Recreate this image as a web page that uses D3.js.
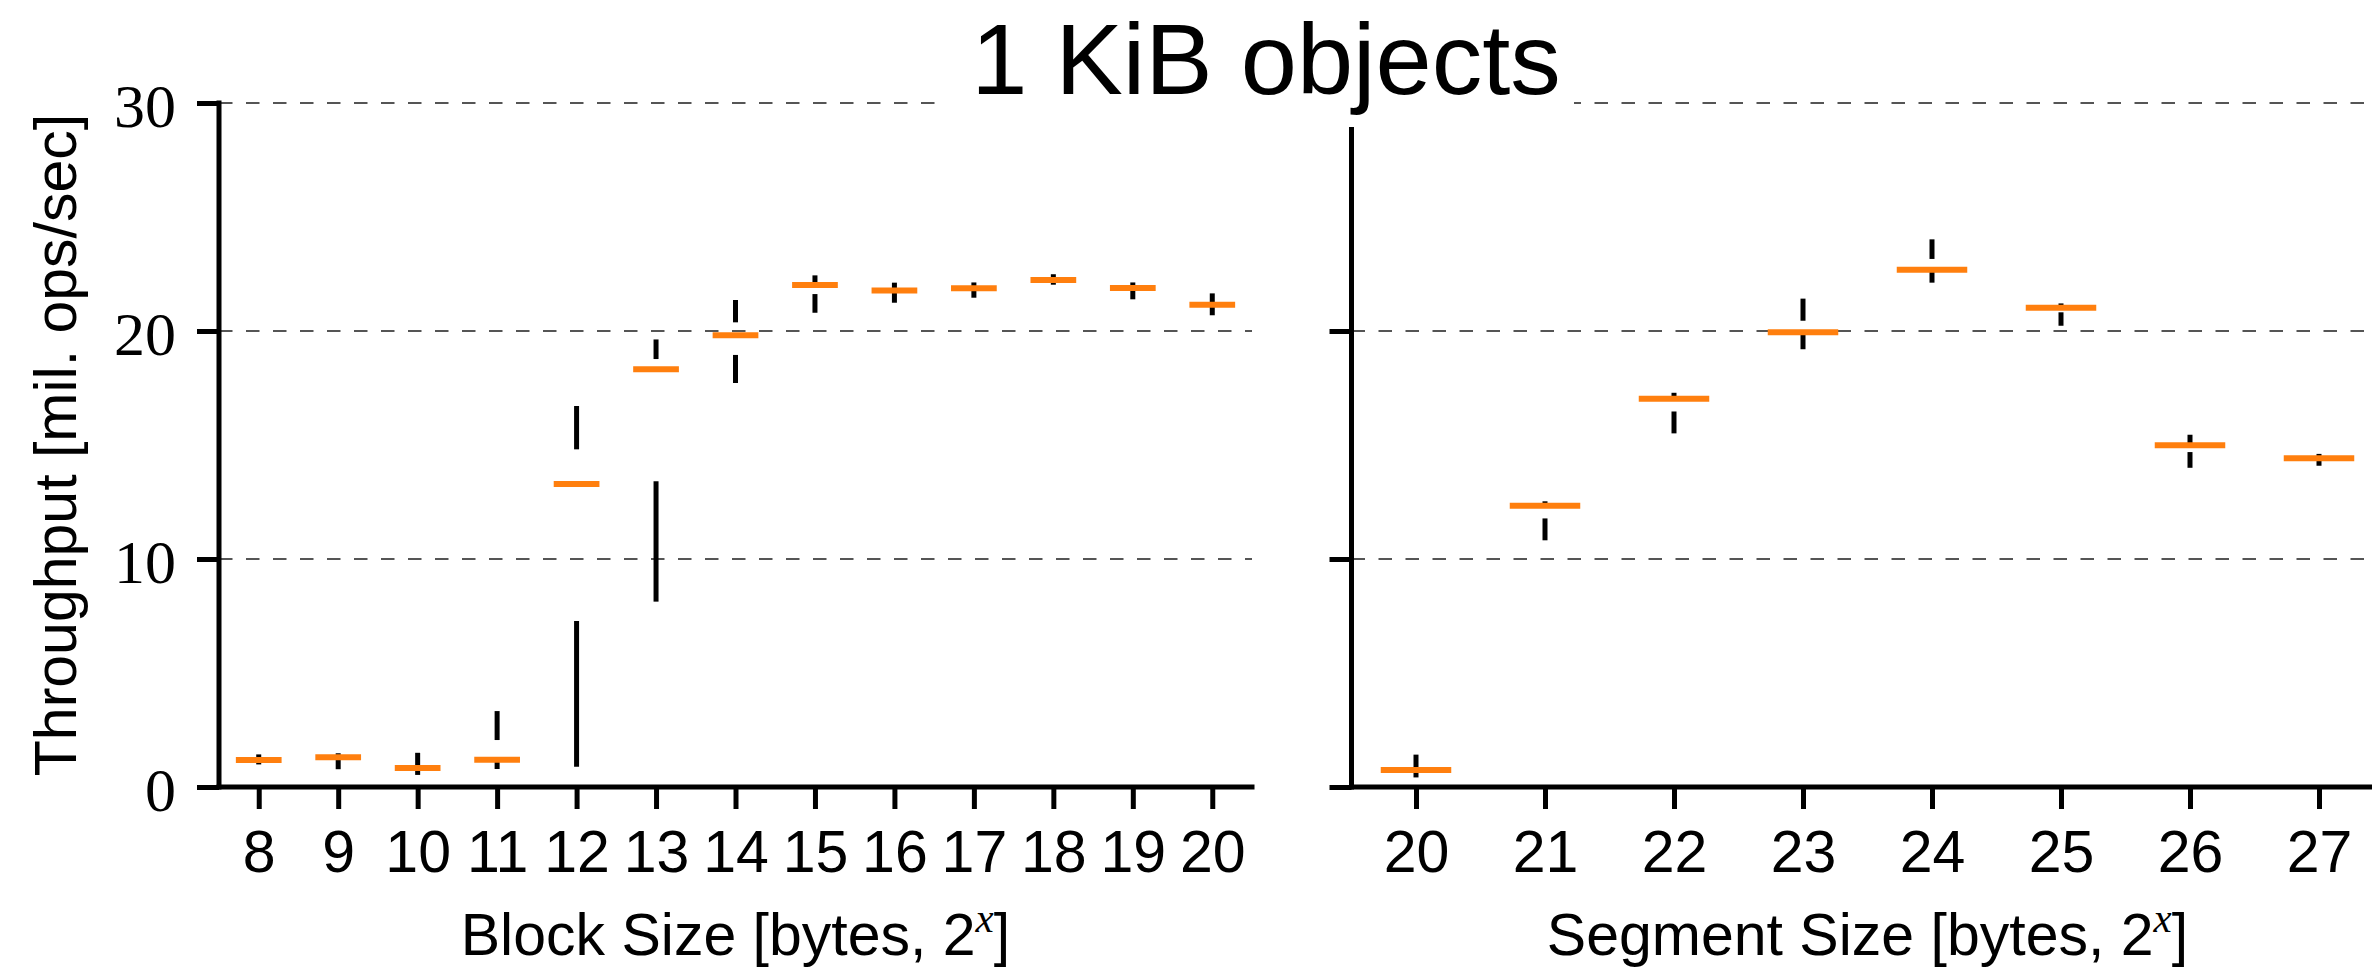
<!DOCTYPE html>
<html>
<head>
<meta charset="utf-8">
<script src="https://cdn.jsdelivr.net/npm/d3@7"></script>
<style>
    body { margin: 0; background: #fff; }
    svg { display: block; }
    .tick line { stroke: #000; stroke-width: 5; }
    .grid { stroke: #555; stroke-width: 2; stroke-dasharray: 13.5 13.5; }
    .spine { stroke: #000; stroke-width: 5; stroke-linecap: square; }
    .whisker { stroke: #000; stroke-width: 5; }
    .median { stroke: #ff7f0e; stroke-width: 6; stroke-linecap: square; }
</style>
</head>
<body>
<div id="chart"></div>
<script>
'use strict';

// Block size panel (2^x bytes)
const blockSizes = [8, 9, 10, 11, 12, 13, 14, 15, 16, 17, 18, 19, 20];
const blockLo  = [0.99, 0.78, 0.53, 0.79, 0.89, 8.13, 17.72, 20.80, 21.24, 21.46, 22.03, 21.39, 20.69];
const blockQ1  = [1.12, 1.24, 0.78, 1.14, 7.28, 13.41, 18.95, 21.62, 21.72, 21.81, 22.18, 21.83, 21.09];
const blockMed = [1.18, 1.30, 0.83, 1.20, 13.29, 18.32, 19.81, 22.02, 21.78, 21.87, 22.24, 21.89, 21.15];
const blockQ3  = [1.26, 1.36, 0.90, 2.06, 14.81, 18.77, 20.38, 22.08, 21.84, 21.93, 22.30, 21.95, 21.21];
const blockHi  = [1.43, 1.48, 1.50, 3.33, 16.71, 19.63, 21.36, 22.44, 22.12, 22.13, 22.49, 22.13, 21.65];

// Segment size panel (2^x bytes)
const segmentSizes = [20, 21, 22, 23, 24, 25, 26, 27];
const segLo  = [0.42, 10.82, 15.51, 19.20, 22.12, 20.23, 14.00, 14.09];
const segQ1  = [0.70, 11.78, 16.47, 19.88, 22.63, 20.82, 14.69, 14.36];
const segMed = [0.75, 12.34, 17.03, 19.94, 22.69, 21.02, 14.99, 14.42];
const segQ3  = [0.80, 12.40, 17.09, 20.45, 23.16, 21.08, 15.05, 14.48];
const segHi  = [1.42, 12.53, 17.29, 21.42, 24.02, 21.21, 15.45, 14.61];

// Shared y axis
const yTicks = [0, 10, 20, 30];
const gridTicks = [10, 20, 30];

const sansFont = '"Liberation Sans", Arial, sans-serif';
const serifFont = '"Liberation Serif", "Times New Roman", serif';

class BoxPanel {

    constructor(_svg, _cfg) {
        this.svg = _svg;
        this.cfg = _cfg;

        this.initVis();
    }

    initVis() {
        // Get this vis
        const vis = this;
        const cfg = vis.cfg;

        // Scales
        vis.xScale = d3.scaleLinear()
            .domain(cfg.domain)
            .range([cfg.x0, cfg.x1]);
        vis.yScale = d3.scaleLinear()
            .domain([0, 30])
            .range([787, 103]);

        // Build g
        vis.g = vis.svg.append('g');

        // Gridlines
        vis.g.append('g')
            .selectAll('line')
            .data(gridTicks)
            .join('line')
            .attr('class', 'grid')
            .attr('x1', cfg.x0)
            .attr('x2', cfg.x1)
            .attr('y1', d => vis.yScale(d))
            .attr('y2', d => vis.yScale(d));

        // Bottom axis
        vis.xAxis = d3.axisBottom(vis.xScale)
            .tickValues(cfg.cats)
            .tickSize(22)
            .tickSizeOuter(0)
            .tickFormat(d3.format('d'));
        vis.g.append('g')
            .attr('transform', `translate(0,${vis.yScale(0)})`)
            .call(vis.xAxis)
            .attr('font-family', sansFont)
            .attr('font-size', 59)
            .call(g => g.select('.domain').remove())
            .call(g => g.selectAll('.tick text')
                .attr('y', 85)
                .attr('dy', null)
                .attr('fill', '#000'));

        // Left axis
        vis.yAxis = d3.axisLeft(vis.yScale)
            .tickValues(yTicks)
            .tickSize(22)
            .tickSizeOuter(0)
            .tickFormat(cfg.yLabels ? d3.format('d') : () => '');
        vis.g.append('g')
            .attr('transform', `translate(${cfg.x0},0)`)
            .call(vis.yAxis)
            .attr('font-family', serifFont)
            .attr('font-size', 62)
            .call(g => g.select('.domain').remove())
            .call(g => g.selectAll('.tick text')
                .attr('x', -43)
                .attr('y', 23)
                .attr('dy', null)
                .attr('fill', '#000'));

        // Spines
        vis.g.append('line')
            .attr('class', 'spine')
            .attr('x1', cfg.x0).attr('x2', cfg.x0)
            .attr('y1', vis.yScale(0)).attr('y2', vis.yScale(30));
        vis.g.append('line')
            .attr('class', 'spine')
            .attr('x1', cfg.x0).attr('x2', cfg.x1)
            .attr('y1', vis.yScale(0)).attr('y2', vis.yScale(0));

        // X label
        const xl = vis.g.append('text')
            .attr('x', (cfg.x0 + cfg.x1) / 2)
            .attr('y', 955)
            .attr('text-anchor', 'middle')
            .attr('font-family', sansFont)
            .attr('font-size', 59);
        xl.append('tspan').text(cfg.xLabel + ' 2');
        xl.append('tspan')
            .attr('font-family', serifFont)
            .attr('font-style', 'italic')
            .attr('font-size', 41)
            .attr('dy', -23)
            .text('x');
        xl.append('tspan')
            .attr('dy', 23)
            .text(']');

        // Boxes
        vis.rows = cfg.cats.map((c, i) => ({
            cat: c, lo: cfg.lo[i], q1: cfg.q1[i], med: cfg.med[i], q3: cfg.q3[i], hi: cfg.hi[i]
        }));

        vis.updateVis();
    }

    updateVis() {
        // Get this vis
        const vis = this;

        vis.g.selectAll('.boxG')
            .data(vis.rows)
            .join('g')
            .attr('class', 'boxG')
            .each(function(d) {
                const boxG = d3.select(this);
                const cx = vis.xScale(d.cat);
                // Whiskers
                boxG.append('line')
                    .attr('class', 'whisker')
                    .attr('x1', cx).attr('x2', cx)
                    .attr('y1', vis.yScale(d.lo)).attr('y2', vis.yScale(d.q1));
                boxG.append('line')
                    .attr('class', 'whisker')
                    .attr('x1', cx).attr('x2', cx)
                    .attr('y1', vis.yScale(d.q3)).attr('y2', vis.yScale(d.hi));
                // Median
                boxG.append('line')
                    .attr('class', 'median')
                    .attr('x1', vis.xScale(d.cat - 0.25))
                    .attr('x2', vis.xScale(d.cat + 0.25))
                    .attr('y1', vis.yScale(d.med))
                    .attr('y2', vis.yScale(d.med));
            });
    }
}

// Config
const w = 2372;
const h = 971;

const svg = d3.select('#chart')
    .append('svg')
    .attr('width', w)
    .attr('height', h);

new BoxPanel(svg, {
    x0: 219, x1: 1252, domain: [7.5, 20.5],
    cats: blockSizes, lo: blockLo, q1: blockQ1, med: blockMed, q3: blockQ3, hi: blockHi,
    yLabels: true, xLabel: 'Block Size [bytes,'
});

new BoxPanel(svg, {
    x0: 1351.5, x1: 2383.5, domain: [19.5, 27.5],
    cats: segmentSizes, lo: segLo, q1: segQ1, med: segMed, q3: segQ3, hi: segHi,
    yLabels: false, xLabel: 'Segment Size [bytes,'
});

// Y label
svg.append('text')
    .attr('transform', 'translate(76,445) rotate(-90)')
    .attr('text-anchor', 'middle')
    .attr('font-family', sansFont)
    .attr('font-size', 59)
    .text('Throughput [mil. ops/sec]');

// Title with white box
svg.append('rect')
    .attr('x', 938)
    .attr('y', 0)
    .attr('width', 1574 - 938)
    .attr('height', 127)
    .attr('fill', '#fff');
svg.append('text')
    .attr('x', 1266)
    .attr('y', 94)
    .attr('text-anchor', 'middle')
    .attr('font-family', sansFont)
    .attr('font-size', 101)
    .text('1 KiB objects');
</script>
</body>
</html>
